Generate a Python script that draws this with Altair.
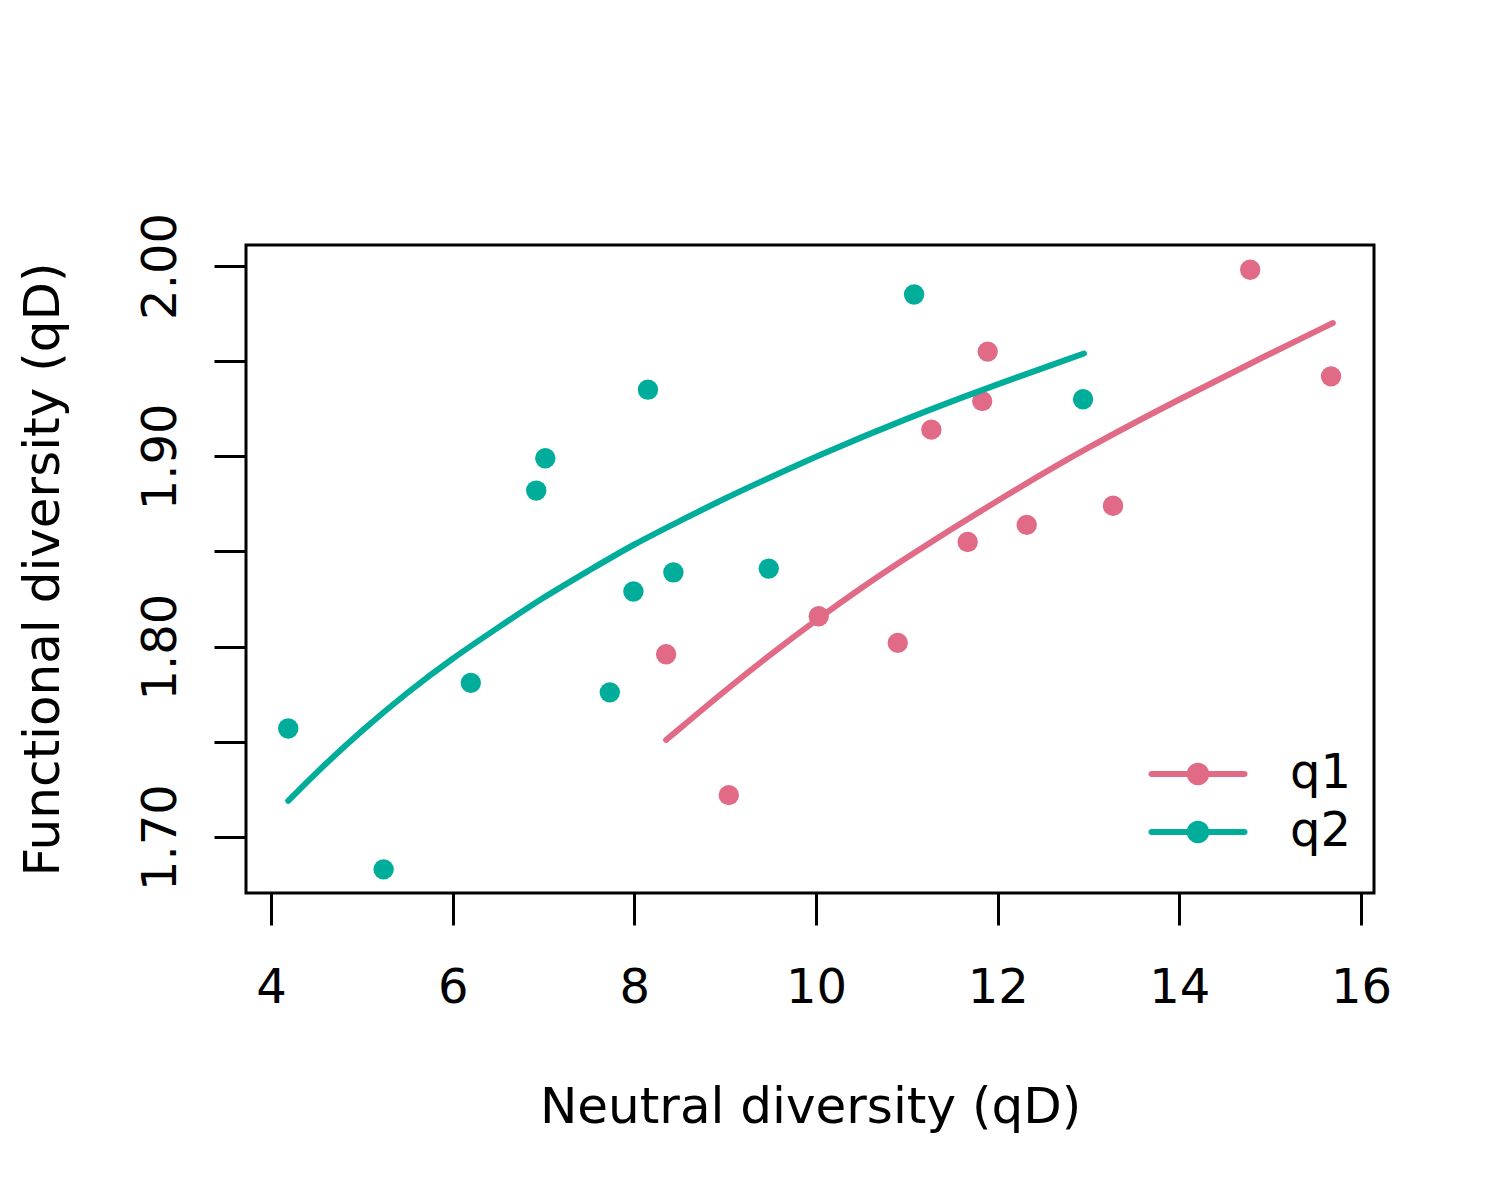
import altair as alt
import pandas as pd

q1_neutral = [8.35, 9.04, 10.03, 10.90, 11.27, 11.67, 11.83, 11.89, 12.32, 13.27, 14.78, 15.67]
q1_functional = [1.796, 1.722, 1.816, 1.802, 1.914, 1.855, 1.929, 1.955, 1.864, 1.874, 1.998, 1.942]
q2_neutral = [4.19, 5.24, 6.20, 6.92, 7.02, 7.73, 7.99, 8.15, 8.43, 9.48, 11.08, 12.94]
q2_functional = [1.757, 1.683, 1.781, 1.882, 1.899, 1.776, 1.829, 1.935, 1.839, 1.841, 1.985, 1.930]

# fitted curves
q1_fit_neutral = [8.35, 8.5, 9, 9.5, 10, 10.5, 11, 12, 13, 14, 15, 15.69]
q1_fit_functional = [1.751, 1.757, 1.777, 1.796, 1.814, 1.831, 1.847, 1.877, 1.905, 1.930,
                     1.954, 1.970]
q2_fit_neutral = [4.19, 4.5, 5, 5.5, 6, 6.5, 7, 7.5, 8, 8.5, 9, 9.5, 10, 11, 12, 12.95]
q2_fit_functional = [1.719, 1.734, 1.756, 1.776, 1.794, 1.810, 1.826, 1.840, 1.854, 1.866,
                     1.878, 1.889, 1.900, 1.920, 1.938, 1.954]

series = ["q1", "q2"]
colors = ["#E16A86", "#00AD9A"]
x_ticks = [4, 6, 8, 10, 12, 14, 16]
y_ticks = [1.70, 1.75, 1.80, 1.85, 1.90, 1.95, 2.00]

FONT = "DejaVu Sans"
# line segment with round ends plus a dot, as one filled path
# (unit = half of sqrt(symbolSize) = 24px)
LEGEND_SYMBOL = (
    "M-1.94,-0.125L1.94,-0.125L1.94,0.125L-1.94,0.125Z"
    "M-1.815,0A0.125,0.125,0,1,1,-2.065,0A0.125,0.125,0,1,1,-1.815,0Z"
    "M2.065,0A0.125,0.125,0,1,1,1.815,0A0.125,0.125,0,1,1,2.065,0Z"
    "M0.47,0A0.47,0.47,0,1,1,-0.47,0A0.47,0.47,0,1,1,0.47,0Z"
)


def make_frame(xs, ys, name):
    return pd.DataFrame({"neutral": xs, "functional": ys, "series": name})


points_df = pd.concat(
    [
        make_frame(q1_neutral, q1_functional, "q1"),
        make_frame(q2_neutral, q2_functional, "q2"),
    ]
)
fit_df = pd.concat(
    [
        make_frame(q1_fit_neutral, q1_fit_functional, "q1"),
        make_frame(q2_fit_neutral, q2_fit_functional, "q2"),
    ]
)

x_enc = alt.X(
    "neutral:Q",
    title="Neutral diversity (qD)",
    scale=alt.Scale(domain=[3.725, 16.143], nice=False, zero=False),
    axis=alt.Axis(
        values=x_ticks,
        format="d",
        grid=False,
        domain=False,
        tickSize=32,
        tickWidth=3,
        tickColor="black",
        labelFontSize=48,
        labelFont=FONT,
        labelColor="black",
        labelBaseline="alphabetic",
        labelPadding=77,
        labelFlush=False,
        titleFontSize=50,
        titleFont=FONT,
        titleFontWeight="normal",
        titleColor="black",
        titleX=564,
        titleY=229,
        titleBaseline="alphabetic",
        titleAlign="center",
    ),
)
y_enc = alt.Y(
    "functional:Q",
    title="Functional diversity (qD)",
    scale=alt.Scale(domain=[1.6706, 2.011], nice=False, zero=False),
    axis=alt.Axis(
        values=y_ticks,
        grid=False,
        domain=False,
        tickSize=32,
        tickWidth=3,
        tickColor="black",
        labelExpr="round(datum.value * 100) % 10 == 0 ? format(datum.value, '.2f') : ''",
        labelFontSize=48,
        labelFont=FONT,
        labelColor="black",
        labelAngle=270,
        labelAlign="center",
        labelBaseline="alphabetic",
        labelPadding=39,
        labelFlush=False,
        titleFontSize=50,
        titleFont=FONT,
        titleFontWeight="normal",
        titleColor="black",
        titleAngle=270,
        titleX=-188,
        titleY=324,
        titleBaseline="alphabetic",
        titleAlign="center",
    ),
)
color_scale = alt.Scale(domain=series, range=colors)
legend = alt.Legend(
    title=None,
    orient="none",
    legendX=928,
    legendY=505,
    symbolType=LEGEND_SYMBOL,
    symbolSize=2304,
    symbolStrokeWidth=0,
    symbolOpacity=1,
    labelFont=FONT,
    labelFontSize=48,
    labelColor="black",
    labelOffset=68,
    rowPadding=10,
)

points = (
    alt.Chart(points_df)
    .mark_circle(size=415, opacity=1)
    .encode(
        x=x_enc,
        y=y_enc,
        color=alt.Color("series:N", scale=color_scale, legend=legend),
    )
)

curves = (
    alt.Chart(fit_df)
    .mark_line(strokeWidth=6, interpolate="basis", strokeCap="round")
    .encode(
        x=alt.X("neutral:Q"),
        y=alt.Y("functional:Q"),
        color=alt.Color("series:N", scale=color_scale, legend=legend),
        detail="series:N",
    )
)

chart = (
    alt.layer(points, curves)
    .properties(
        width=1128,
        height=648,
        autosize=alt.AutoSizeParams(type="none"),
        padding={"left": 238, "top": 237, "right": 118, "bottom": 299},
        background="white",
    )
    .configure_view(stroke="black", strokeWidth=3)
)

chart.save("out.html", embed_options={"renderer": "svg", "actions": False})
